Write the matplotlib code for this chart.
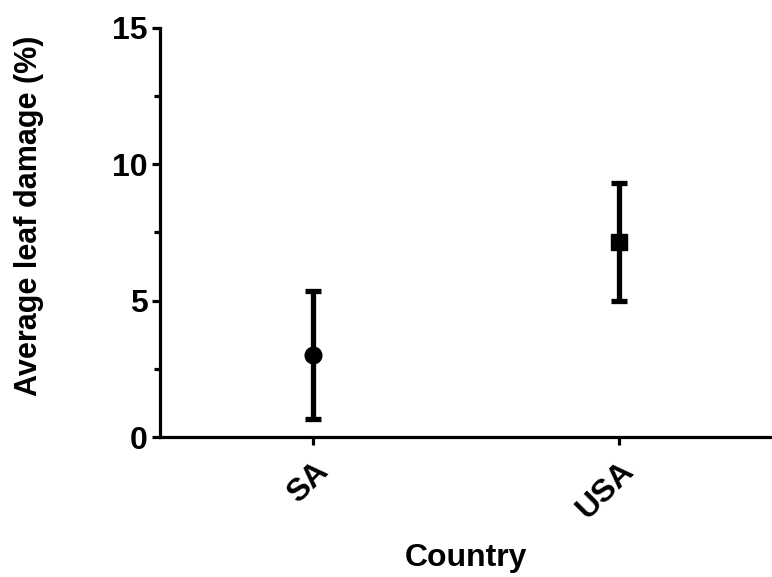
import matplotlib.pyplot as plt
from matplotlib.ticker import MultipleLocator

countries = ["SA", "USA"]
means = [3.0, 7.15]
errs = [2.35, 2.15]
markers = ["o", "s"]

plt.rcParams['font.family'] = ['Liberation Sans', 'DejaVu Sans']
plt.rcParams['font.weight'] = 'bold'

fig = plt.figure(figsize=(7.72, 5.77), dpi=100)
ax = fig.add_axes([0.207, 0.2426, 0.793, 0.709])

x = [0.5, 1.5]
for xi, m, e, mk in zip(x, means, errs, markers):
    ax.errorbar(xi, m, yerr=e, fmt=mk, color='black', markersize=12,
                elinewidth=3.8, capsize=6, capthick=3.8)

ax.set_xlim(0, 2)
ax.set_ylim(0, 15)
ax.set_xticks(x)
ax.set_xticklabels(countries, rotation=45, ha='right', rotation_mode='anchor')
ax.yaxis.set_major_locator(MultipleLocator(5))
ax.yaxis.set_minor_locator(MultipleLocator(2.5))

for s in ['top', 'right']:
    ax.spines[s].set_visible(False)
for s in ['left', 'bottom']:
    ax.spines[s].set_linewidth(2.3)

ax.tick_params(axis='both', which='major', width=2.3, length=6, labelsize=23, pad=3)
ax.tick_params(axis='y', which='minor', width=2.3, length=4)
ax.tick_params(axis='x', pad=8)

ax.set_xlabel('Country', fontsize=23, fontweight='bold')
ax.set_ylabel('Average leaf damage (%)', fontsize=22, fontweight='bold')
ax.xaxis.set_label_coords(0.5, -0.26)
ax.yaxis.set_label_coords(-0.189, 0.54)

fig.savefig('out.png', dpi=100)
